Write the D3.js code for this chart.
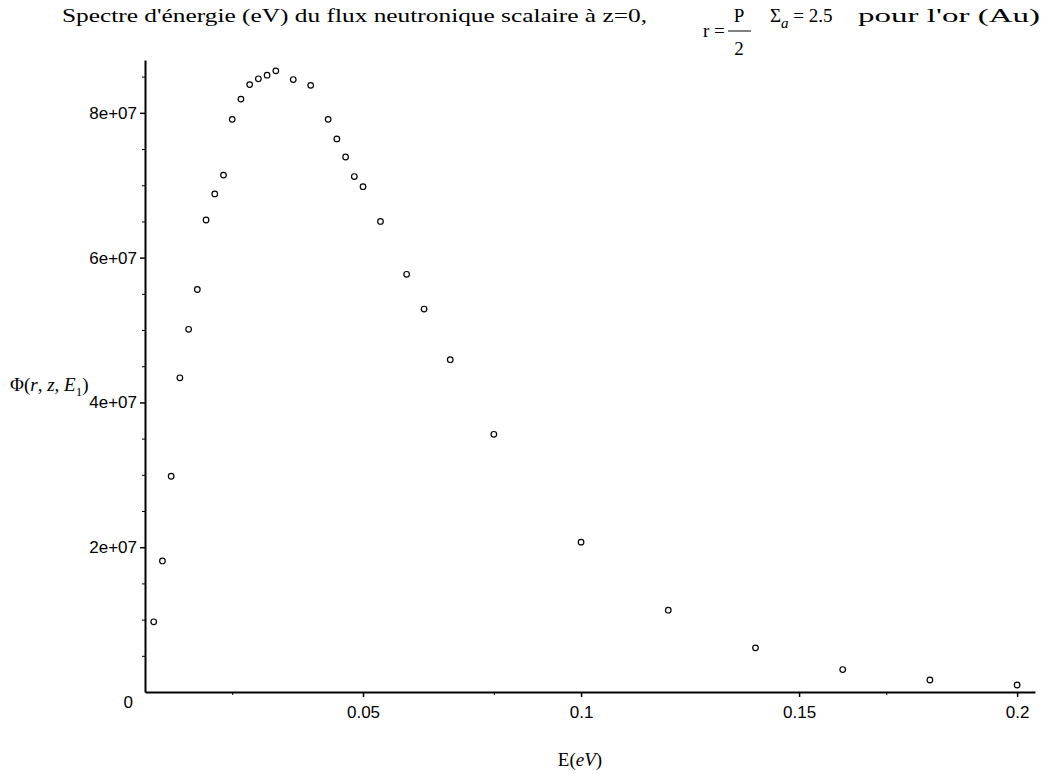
<!DOCTYPE html>
<html><head><meta charset="utf-8">
<script src="https://cdn.jsdelivr.net/npm/d3@7"></script>
<style>
body{margin:0;background:#fff;}
svg{display:block;}
text{fill:#000;}
</style></head>
<body><svg id="c" width="1045" height="774"></svg>
<script>
// ---- data ----
const energies = [0.002,0.004,0.006,0.008,0.010,0.012,0.014,0.016,0.018,0.020,0.022,0.024,0.026,0.028,0.030,0.034,0.038,0.042,0.044,0.046,0.048,0.050,0.054,0.060,0.064,0.070,0.080,0.100,0.120,0.140,0.160,0.180,0.200];
const flux = [0.97e7,1.81e7,2.98e7,4.34e7,5.01e7,5.56e7,6.52e7,6.88e7,7.14e7,7.91e7,8.19e7,8.39e7,8.47e7,8.52e7,8.58e7,8.46e7,8.38e7,7.91e7,7.64e7,7.39e7,7.12e7,6.98e7,6.50e7,5.77e7,5.29e7,4.59e7,3.56e7,2.07e7,1.13e7,0.61e7,0.31e7,0.166e7,0.097e7];
const xTicks = [0.05,0.1,0.15,0.2];
const xTickLabels = ["0.05","0.1","0.15","0.2"];
const xMinor = [0.02,0.08,0.17];
const yTicks = [2e7,4e7,6e7,8e7];
const yTickLabels = ["2e+07","4e+07","6e+07","8e+07"];
const yMinor = d3.range(5e6, 8.7e7, 5e6);

const svg = d3.select("#c");
const x = d3.scaleLinear().domain([0, 0.2041]).range([145, 1035]);
const y = d3.scaleLinear().domain([0, 8.73e7]).range([692, 60]);

const tickFont = "'Liberation Sans', Arial, sans-serif";
const serif = "'Liberation Serif', 'Times New Roman', serif";

// y axis
const yAxis = svg.append("g").attr("transform", `translate(${x(0)},0)`)
  .call(d3.axisLeft(y).tickValues(yTicks).tickSize(5).tickSizeOuter(0)
    .tickFormat((d,i)=>yTickLabels[i]));
yAxis.select(".domain").attr("stroke","#000").attr("stroke-width",2);
yAxis.selectAll(".tick line").attr("stroke","#000").attr("stroke-width",1.5);
yAxis.selectAll(".tick text").attr("font-family",tickFont).attr("font-size",17).attr("x",-8);
svg.append("g").attr("transform", `translate(${x(0)},0)`)
  .call(d3.axisLeft(y).tickValues(yMinor.filter(v=>!yTicks.includes(v))).tickSize(3).tickFormat(""))
  .call(g=>g.select(".domain").remove())
  .selectAll("line").attr("stroke","#000");

// x axis
const xAxis = svg.append("g").attr("transform", `translate(0,${y(0)})`)
  .call(d3.axisBottom(x).tickValues(xTicks).tickSize(5).tickSizeOuter(0)
    .tickFormat((d,i)=>xTickLabels[i]));
xAxis.select(".domain").attr("stroke","#000").attr("stroke-width",2);
xAxis.selectAll(".tick line").attr("stroke","#000").attr("stroke-width",1.5);
xAxis.selectAll(".tick text").attr("font-family",tickFont).attr("font-size",17).attr("y",14);
svg.append("g").attr("transform", `translate(0,${y(0)})`)
  .call(d3.axisBottom(x).tickValues(xMinor).tickSize(3).tickFormat(""))
  .call(g=>g.select(".domain").remove())
  .selectAll("line").attr("stroke","#000");

// origin label
svg.append("text").attr("x", x(0)-12).attr("y", y(0)+16)
  .attr("font-family",tickFont).attr("font-size",17).attr("text-anchor","end").text("0");

// points
svg.append("g").selectAll("circle").data(energies).join("circle")
  .attr("cx",(d)=>x(d)).attr("cy",(d,i)=>y(flux[i])).attr("r",2.8)
  .attr("fill","none").attr("stroke","#000").attr("stroke-width",1.2);

// title
svg.append("text").attr("x",62).attr("y",22).attr("font-family",serif).attr("font-size",19)
  .attr("textLength",585).attr("lengthAdjust","spacingAndGlyphs")
  .text("Spectre d'énergie (eV) du flux neutronique scalaire à z=0,");
svg.append("text").attr("x",703).attr("y",37).attr("font-family",serif).attr("font-size",19).text("r =");
svg.append("text").attr("x",739).attr("y",22).attr("font-family",serif).attr("font-size",19).attr("text-anchor","middle").text("P");
svg.append("line").attr("x1",728).attr("x2",751).attr("y1",31).attr("y2",31).attr("stroke","#000").attr("stroke-width",1);
svg.append("text").attr("x",739).attr("y",55).attr("font-family",serif).attr("font-size",19).attr("text-anchor","middle").text("2");
const sig = svg.append("text").attr("x",770).attr("y",22).attr("font-family",serif).attr("font-size",19);
sig.append("tspan").text("Σ");
sig.append("tspan").attr("dy",6).attr("font-size",15).attr("font-style","italic").text("a");
sig.append("tspan").attr("dy",-6).text(" = 2.5");
svg.append("text").attr("x",858).attr("y",22).attr("font-family",serif).attr("font-size",18)
  .attr("textLength",182).attr("lengthAdjust","spacingAndGlyphs").text("pour l'or (Au)");

// y axis title
const yt = svg.append("text").attr("x",10).attr("y",391).attr("font-family",serif).attr("font-size",19);
yt.append("tspan").text("Φ(");
yt.append("tspan").attr("font-style","italic").text("r");
yt.append("tspan").text(", ");
yt.append("tspan").attr("font-style","italic").text("z");
yt.append("tspan").text(", ");
yt.append("tspan").attr("font-style","italic").text("E");
yt.append("tspan").attr("dy",5).attr("font-size",13).text("1");
yt.append("tspan").attr("dy",-5).text(")");

// x axis title
const xt = svg.append("text").attr("x",580).attr("y",766).attr("font-family",serif).attr("font-size",19).attr("text-anchor","middle");
xt.append("tspan").text("E(");
xt.append("tspan").attr("font-style","italic").text("eV");
xt.append("tspan").text(")");
</script></body></html>
